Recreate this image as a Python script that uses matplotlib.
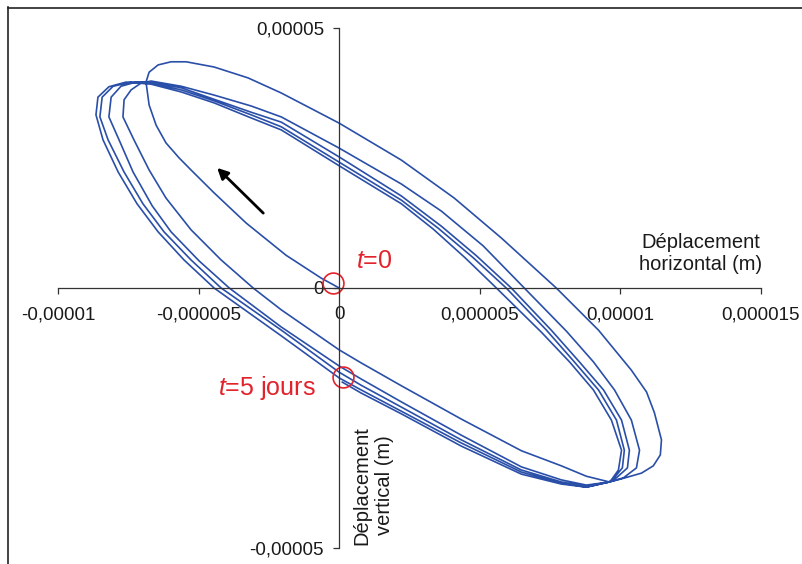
import matplotlib

matplotlib.use("Agg")
import matplotlib.pyplot as plt
import numpy as np
from matplotlib.lines import Line2D

plt.rcParams.update({
    "font.family": ["Liberation Sans", "DejaVu Sans"],
    "mathtext.fontset": "custom",
    "mathtext.rm": "Liberation Sans",
    "mathtext.it": "Liberation Sans:italic",
})

UM = 1e-6  # values below are in micrometres

# t=0 at the origin, first branch up to the top-left tip
start_x = [0, -0.64, -1.89, -3.31, -4.45, -5.27, -5.69, -6.16, -6.51, -6.76, -6.87]
start_y = [0, 1.9, 6.3, 12.5, 18.3, 22.7, 25.0, 27.9, 31.3, 35.2, 39.6]

# each loop: top side -> right lobe -> bottom -> lower-left side -> left lobe
loop1_x = [-6.76, -6.44, -5.98, -5.44, -4.45, -3.24, -2.06, 0, 2.21, 4.09, 5.77, 7.72,
           9.22, 10.39, 10.93, 11.21, 11.46, 11.42, 11.17, 10.75, 10.04, 9.61,
           8.79, 7.90, 6.48, 4.34, 2.21, 0.78, 0,
           -2.06, -3.06, -4.20, -5.27, -6.16, -6.76, -7.30, -7.69, -7.65, -7.40, -7.05]
loop1_y = [41.5, 42.9, 43.5, 43.5, 42.5, 40.4, 37.5, 31.7, 24.6, 17.3, 9.6, 0,
           -8.1, -15.8, -20.0, -24.0, -29.2, -32.1, -34.2, -35.6, -36.7, -37.3,
           -36.2, -34.2, -31.3, -25.2, -18.8, -14.4, -11.9,
           -4.2, 0, 5.4, 11.2, 17.3, 22.7, 28.5, 32.9, 36.2, 38.1, 39.4]

loop2_x = [-6.69, -5.62, -4.45, -3.13, -2.06, 0, 2.21, 3.63, 5.12, 6.58, 8.08, 9.04,
           9.79, 10.39, 10.68, 10.57, 10.11, 9.61,
           8.79, 7.90, 6.48, 4.34, 2.21, 0.78, 0, -2.06, -3.91, -4.98, -5.98, -6.65,
           -7.33, -7.83, -8.19, -8.11, -7.76, -7.22]
loop2_y = [39.8, 38.8, 37.1, 35.0, 32.9, 26.9, 20.0, 14.8, 8.1, 0, -8.3, -14.2,
           -19.6, -25.4, -31.2, -34.6, -36.5, -37.3,
           -37.9, -36.9, -34.4, -28.3, -21.9, -17.5, -15.0, -7.5, 0, 5.2, 10.8, 15.8,
           22.3, 28.5, 32.9, 36.7, 38.8, 39.6]

loop3_x = [-6.69, -5.62, -4.45, -3.13, -2.06, 0, 2.21, 3.63, 4.88, 6.12, 7.54, 8.54,
           9.40, 10.04, 10.32, 10.25, 9.86, 9.61,
           8.79, 7.90, 6.48, 4.34, 2.21, 0.78, 0, -2.06, -4.20, -5.27, -6.23, -6.98,
           -7.65, -8.22, -8.51, -8.43, -8.04, -7.40]
loop3_y = [39.6, 38.5, 36.3, 33.8, 31.9, 25.2, 17.7, 11.9, 6.2, 0, -8.1, -14.2,
           -19.6, -25.4, -31.2, -34.6, -36.5, -37.3,
           -38.1, -37.3, -35.0, -29.2, -22.9, -18.7, -16.2, -8.1, 0, 5.4, 10.8, 16.2,
           22.3, 28.5, 32.9, 36.7, 38.8, 39.6]

loop4_x = [-6.69, -5.62, -4.45, -3.13, -2.06, 0, 2.21, 3.52, 4.77, 5.94, 7.37, 8.36,
           9.22, 9.86, 10.14, 10.07, 9.75, 9.61,
           8.79, 7.90, 6.48, 4.34, 2.21, 0.78, 0, -2.06, -4.45, -5.52, -6.44, -7.19,
           -7.86, -8.40, -8.65, -8.58, -8.19, -7.58]
loop4_y = [39.4, 38.1, 36.0, 33.3, 31.0, 24.2, 16.9, 11.5, 5.8, 0, -8.1, -14.2,
           -19.6, -25.4, -31.2, -34.6, -36.7, -37.3,
           -38.3, -37.5, -35.4, -29.8, -23.7, -19.6, -17.3, -9.2, 0, 5.4, 10.8, 16.2,
           22.3, 28.5, 33.3, 36.7, 38.7, 39.6]

# last loop, ends at t=5 jours just below the origin
loop5_x = [-6.69, -5.62, -4.45, -3.13, -2.06, 0, 2.21, 3.35, 4.48, 5.59, 7.19, 8.19,
           9.04, 9.68, 10.04, 9.93, 9.68, 9.61,
           8.79, 7.90, 6.48, 4.34, 2.21, 0.78, 0.11]
loop5_y = [39.2, 37.7, 35.6, 32.7, 30.4, 23.5, 16.2, 11.3, 5.8, 0, -8.5, -14.2,
           -19.6, -25.4, -31.2, -35.0, -36.9, -37.3,
           -38.3, -37.7, -35.8, -30.4, -24.2, -20.2, -18.1]

x_ticks = [-1e-5, -5e-6, 0, 5e-6, 1e-5, 1.5e-5]
x_tick_labels = ["-0,00001", "-0,000005", "0", "0,000005", "0,00001", "0,000015"]
y_ticks = [-5e-5, 0, 5e-5]
y_tick_labels = ["-0,00005", "0", "0,00005"]

BLUE = "#2a4fa8"
RED = "#e3232c"

traj_x = np.concatenate([start_x, loop1_x, loop2_x, loop3_x, loop4_x, loop5_x]) * UM
traj_y = np.concatenate([start_y, loop1_y, loop2_y, loop3_y, loop4_y, loop5_y]) * UM

fig = plt.figure(figsize=(8.03, 5.64), dpi=100)
ax = fig.add_axes([58 / 803, 16 / 564, 703 / 803, 520 / 564])
ax.set_facecolor("none")

ax.plot(traj_x, traj_y, color=BLUE, lw=1.2, solid_joinstyle="round")

ax.set_xlim(-1e-5, 1.5e-5)
ax.set_ylim(-5e-5, 5e-5)
for side in ("top", "right"):
    ax.spines[side].set_visible(False)
ax.spines["left"].set_position(("data", 0))
ax.spines["bottom"].set_position(("data", 0))
for side in ("left", "bottom"):
    ax.spines[side].set_color("#333333")
    ax.spines[side].set_linewidth(0.9)

ax.set_xticks(x_ticks)
ax.set_xticklabels(x_tick_labels)
ax.set_yticks(y_ticks)
ax.set_yticklabels(y_tick_labels)
ax.tick_params(axis="both", direction="out", length=4, width=0.9,
               color="#333333", labelsize=13.5, labelcolor="#1a1a1a")
ax.tick_params(axis="x", pad=9)
ax.tick_params(axis="y", pad=7)

# markers for start and end
ax.plot([-0.21 * UM], [0.96 * UM], "o", ms=15, mfc="none", mec=RED, mew=1.2)
ax.plot([0.14 * UM], [-17.1 * UM], "o", ms=15, mfc="none", mec=RED, mew=1.2)
ax.text(0.6 * UM, 3.85 * UM, "$t$=0", color=RED, fontsize=18,
        ha="left", va="baseline")
ax.text(-0.82 * UM, -20.6 * UM, "$t$=5 jours", color=RED, fontsize=18,
        ha="right", va="baseline")

ax.annotate("", xy=(-4.34 * UM, 23.1 * UM), xytext=(-2.70 * UM, 14.4 * UM),
            arrowprops=dict(arrowstyle="-|>", color="black", lw=2,
                            mutation_scale=16, shrinkA=0, shrinkB=0))

ax.text(12.85 * UM, 6.7 * UM, "Déplacement\nhorizontal (m)", fontsize=14.5,
        ha="center", va="center", multialignment="center", color="#1a1a1a")
ax.text(1.21 * UM, -37.9 * UM, "Déplacement\nvertical (m)", fontsize=14.5,
        rotation=90, ha="center", va="center", multialignment="center",
        color="#1a1a1a")

# outer frame of the scanned chart
fig.add_artist(Line2D([8 / 803, 8 / 803], [0, 1 - 7 / 564], color="#222222", lw=1.2))
fig.add_artist(Line2D([8 / 803, 1], [1 - 8 / 564, 1 - 8 / 564], color="#222222", lw=1.2))

fig.savefig("out.png", dpi=100)
